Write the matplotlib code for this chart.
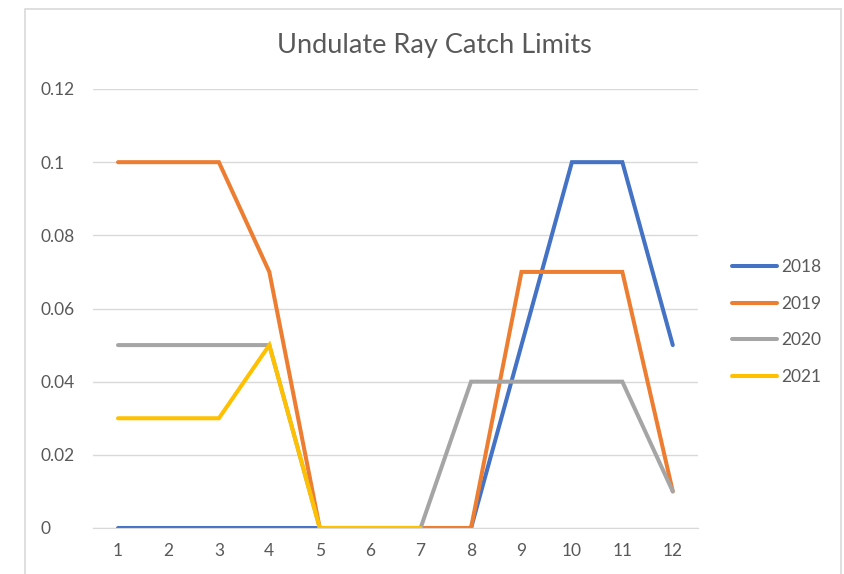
import numpy as np
import matplotlib
matplotlib.use('Agg')
import matplotlib.pyplot as plt
from matplotlib.patches import Rectangle

# catch limits by month
months = list(range(1, 13))
limits_2018 = [0, 0, 0, 0, 0, 0, 0, 0, 0.05, 0.1, 0.1, 0.05]
limits_2019 = [0.1, 0.1, 0.1, 0.07, 0, 0, 0, 0, 0.07, 0.07, 0.07, 0.01]
limits_2020 = [0.05, 0.05, 0.05, 0.05, 0, 0, 0, 0.04, 0.04, 0.04, 0.04, 0.01]
limits_2021 = [0.03, 0.03, 0.03, 0.05, 0, 0, 0, None, None, None, None, None]

series = [('2018', limits_2018, '#4472C4'),
          ('2019', limits_2019, '#ED7D31'),
          ('2020', limits_2020, '#A5A5A5'),
          ('2021', limits_2021, '#FFC000')]

yticks = [0, 0.02, 0.04, 0.06, 0.08, 0.1, 0.12]
ytick_labels = ['0', '0.02', '0.04', '0.06', '0.08', '0.1', '0.12']

plt.rcParams['font.family'] = ['Lato', 'DejaVu Sans']

W, H = 844, 574
fig = plt.figure(figsize=(W / 100, H / 100), dpi=100)
fig.patch.set_facecolor('white')

# chart border
fig.patches.append(Rectangle((25 / W, -0.05), (841 - 25) / W, 1.05 - 9 / H,
                             transform=fig.transFigure, fill=False,
                             edgecolor='#D9D9D9', linewidth=1.2))

left, right, top, bottom = 92.8, 698, 89, 528
ax = fig.add_axes([left / W, 1 - bottom / H, (right - left) / W, (bottom - top) / H])

for name, vals, col in series:
    y = np.array([np.nan if v is None else v for v in vals], dtype=float)
    ax.plot(months, y, color=col, lw=2.9, label=name, solid_capstyle='round',
            solid_joinstyle='miter')

ax.set_xlim(0.5, 12.5)
ax.set_ylim(0, 0.12)
ax.set_yticks(yticks)
ax.set_yticklabels(ytick_labels)
ax.set_xticks(months)
ax.grid(axis='y', color='#D9D9D9', lw=1)
ax.set_axisbelow(True)
for s in ['top', 'right', 'left']:
    ax.spines[s].set_visible(False)
ax.spines['bottom'].set_color('#D9D9D9')
ax.tick_params(length=0, colors='#595959', labelsize=12.5)
ax.tick_params(axis='y', pad=38)
ax.tick_params(axis='x', pad=11)
for lbl in ax.get_yticklabels():
    lbl.set_horizontalalignment('left')

fig.text(434 / W, 1 - 46 / H, 'Undulate Ray Catch Limits', ha='center', va='center',
         fontsize=19.5, color='#595959')

ax.legend(loc='center left', bbox_to_anchor=(716 / W, 1 - 322 / H),
          bbox_transform=fig.transFigure, frameon=False, fontsize=12.5,
          labelcolor='#595959', handlelength=2.6, handletextpad=0.25,
          labelspacing=1.2)

fig.savefig('out.png', dpi=100)
